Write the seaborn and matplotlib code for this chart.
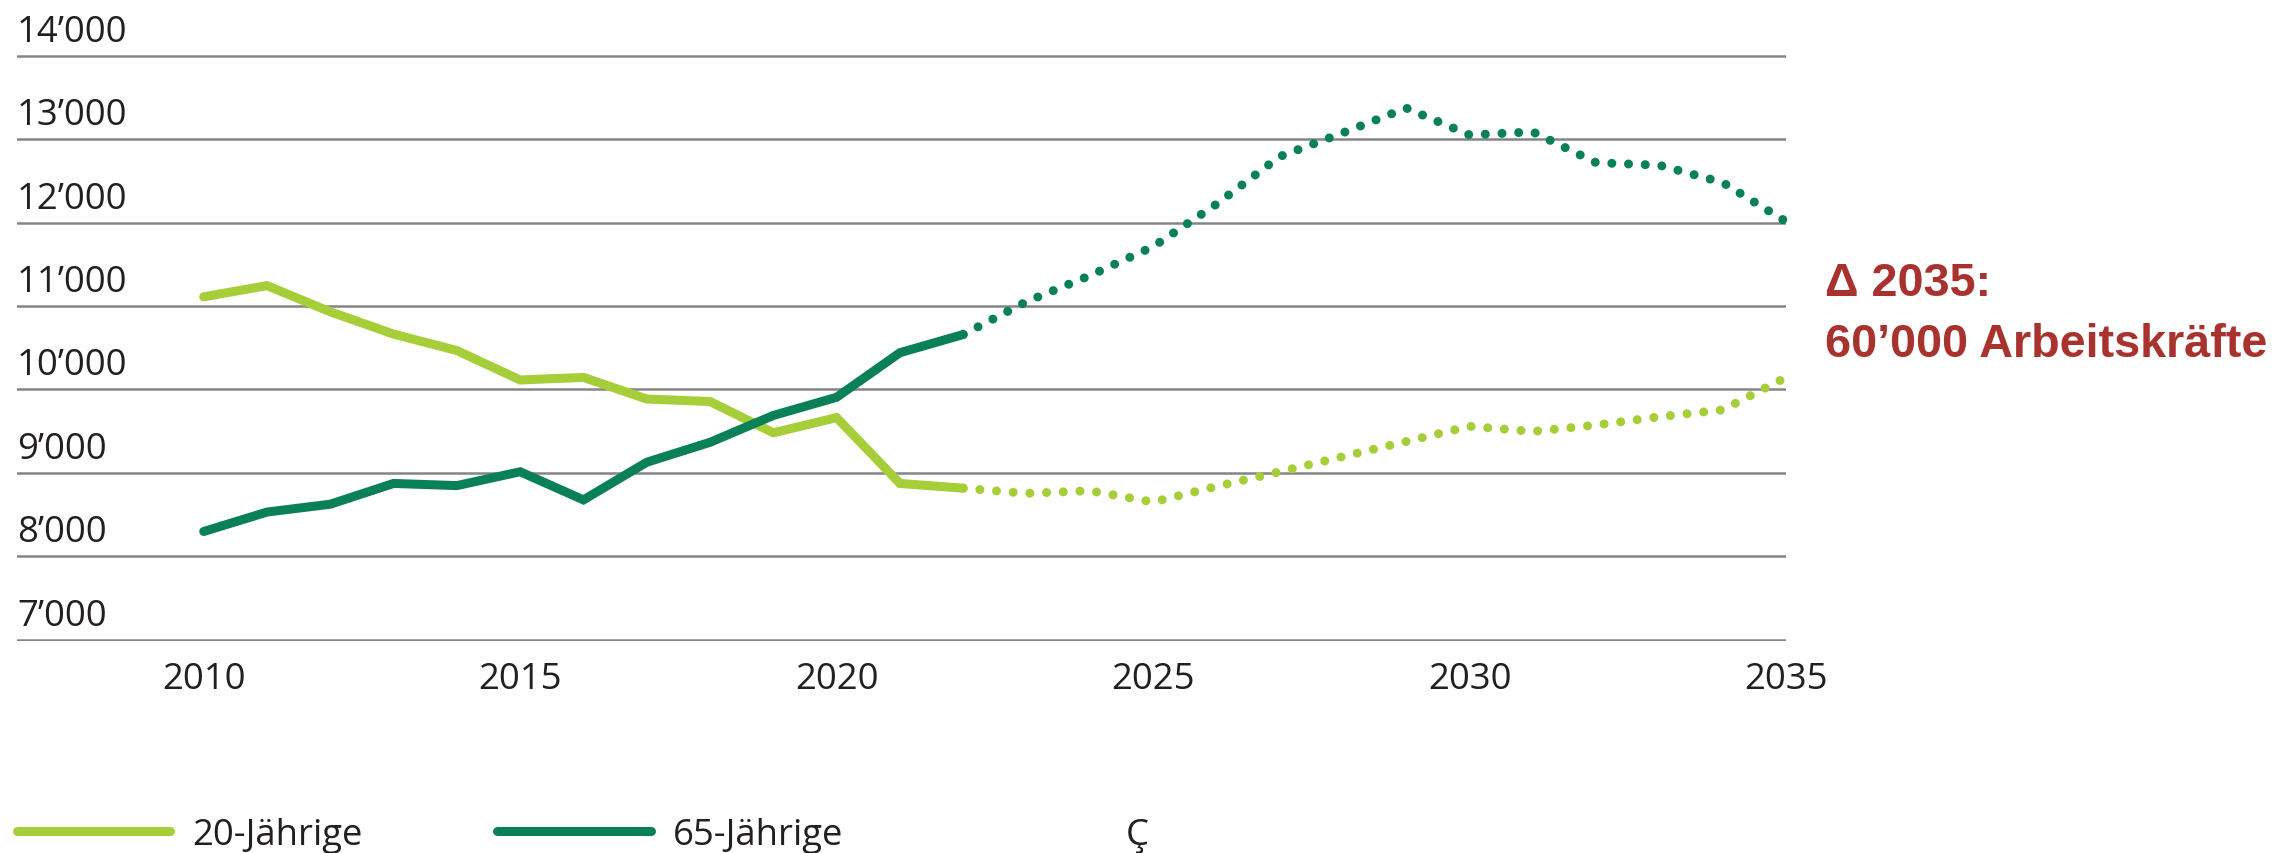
import numpy as np
import pandas as pd
import seaborn as sns
import matplotlib
matplotlib.use("Agg")
import matplotlib.pyplot as plt
from matplotlib.lines import Line2D
from matplotlib.transforms import ScaledTranslation, blended_transform_factory

# ---------------- data ----------------
years_hist = list(range(2010, 2023))
young_hist = [11110, 11244, 10930, 10663, 10466, 10113, 10144, 9885, 9855, 9480, 9662, 8873, 8816]
old_hist = [8297, 8530, 8624, 8873, 8847, 9013, 8676, 9127, 9366, 9688, 9906, 10440, 10658]

years_proj = list(range(2022, 2036))
young_proj = [8816, 8754, 8785, 8650, 8837, 9013, 9195, 9376, 9558, 9496, 9573, 9672, 9755, 10144]
old_proj = [10658, 11052, 11364, 11711, 12220, 12791, 13076, 13372, 13050, 13087, 12718, 12687, 12480, 12012]

series_labels = ["20-Jährige", "65-Jährige"]
y_ticks = [7000, 8000, 9000, 10000, 11000, 12000, 13000, 14000]
y_tick_labels = ["7’000", "8’000", "9’000", "10’000", "11’000", "12’000", "13’000", "14’000"]
x_ticks = [2010, 2015, 2020, 2025, 2030, 2035]
annotation_lines = ["Δ 2035:", "60’000 Arbeitskräfte"]
extra_legend_text = "Ç"

# ---------------- style ----------------
LIGHT = "#A6CE39"
DARK = "#0A8057"
RED = "#A8332E"
TXT = "#231F20"
GRID = "#858585"
FS = 26.3

sns.set_theme(style="white")
plt.rcParams["font.family"] = ["Open Sans", "DejaVu Sans"]

W, H = 2278, 854
fig = plt.figure(figsize=(W / 100, H / 100), dpi=100)

ppu = 83.43 / 1000.0  # pixels per unit
ylo, yhi = 6980, 14020
ax_bottom_px = 640.7 + (7000 - ylo) * ppu
ax_top_px = 56.7 - (yhi - 14000) * ppu
ax_left_px, ax_right_px = 17, 1786
ax = fig.add_axes([ax_left_px / W, 1 - ax_bottom_px / H,
                   (ax_right_px - ax_left_px) / W, (ax_bottom_px - ax_top_px) / H])

df_hist = pd.DataFrame({
    "Jahr": years_hist * 2,
    "Wert": young_hist + old_hist,
    "Gruppe": [series_labels[0]] * len(years_hist) + [series_labels[1]] * len(years_hist),
})
df_proj = pd.DataFrame({
    "Jahr": years_proj * 2,
    "Wert": young_proj + old_proj,
    "Gruppe": [series_labels[0]] * len(years_proj) + [series_labels[1]] * len(years_proj),
})
palette = {series_labels[0]: LIGHT, series_labels[1]: DARK}

LW = 6.5
sns.lineplot(data=df_hist, x="Jahr", y="Wert", hue="Gruppe", palette=palette,
             linewidth=LW, legend=False, ax=ax, solid_capstyle="round",
             solid_joinstyle="miter")
for lab in series_labels:
    sub = df_proj[df_proj["Gruppe"] == lab]
    sns.lineplot(data=sub, x="Jahr", y="Wert", color=palette[lab], linewidth=LW,
                 linestyle=(0, (0.001, 1.85)), dash_capstyle="round",
                 legend=False, ax=ax, clip_on=False)

ax.set_xlim(2007.05, 2035)
ax.set_ylim(ylo, yhi)
ax.set_yticks(y_ticks)
ax.set_yticklabels([])
ax.set_xticks(x_ticks)
ax.set_xticklabels([str(x) for x in x_ticks], fontsize=FS, color=TXT)
ax.tick_params(axis="x", length=0, pad=14)
ax.tick_params(axis="y", length=0, pad=0)
ax.grid(axis="y", color=GRID, linewidth=1.8)
ax.grid(axis="x", visible=False)
for s in ax.spines.values():
    s.set_visible(False)
ax.set_xlabel("")
ax.set_ylabel("")
ax.set_facecolor("none")

# y labels above gridlines
trans = blended_transform_factory(ax.transAxes, ax.transData) + \
    ScaledTranslation(0, 15 / 100, fig.dpi_scale_trans)
for v, t in zip(y_ticks, y_tick_labels):
    ax.text(0.0, v, t, transform=trans, ha="left", va="baseline",
            fontsize=FS, color=TXT)

# annotation
fig.text(1825 / W, 1 - 296 / H, annotation_lines[0], ha="left", va="baseline",
         fontsize=33.7, fontweight="bold", color=RED, family=["Liberation Sans", "DejaVu Sans"])
fig.text(1825 / W, 1 - 357 / H, annotation_lines[1], ha="left", va="baseline",
         fontsize=33.7, fontweight="bold", color=RED, family=["Liberation Sans", "DejaVu Sans"])

# legend
handles = [Line2D([0], [0], color=LIGHT, lw=LW, solid_capstyle="round"),
           Line2D([0], [0], color=DARK, lw=LW, solid_capstyle="round")]
leg = fig.legend(handles, series_labels, loc="center left",
                 bbox_to_anchor=(17 / W, 18 / H), ncol=2, frameon=False,
                 handlelength=4.19, handletextpad=0.6, columnspacing=3.7,
                 borderpad=0, borderaxespad=0, fontsize=FS)
for t in leg.get_texts():
    t.set_color(TXT)
fig.text(1126 / W, 18 / H, extra_legend_text, ha="left", va="center",
         fontsize=FS, color=TXT)

fig.savefig("out.png", dpi=100)
